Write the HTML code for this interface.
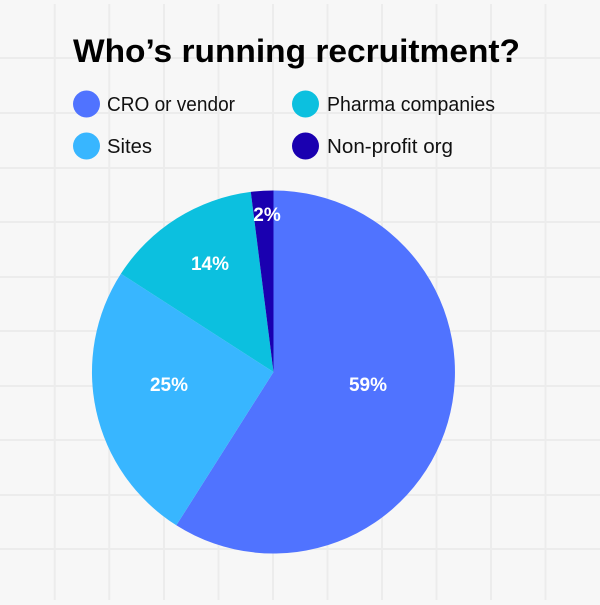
<!DOCTYPE html>
<html><head><style>
body{margin:0;width:600px;height:600px;overflow:hidden;background:#f7f7f7;font-family:"Liberation Sans",sans-serif}
</style></head><body>
<svg width="600" height="600" viewBox="0 0 600 600" xmlns="http://www.w3.org/2000/svg">
<rect width="600" height="600" fill="#f7f7f7"/>
<g stroke="#ececec" stroke-width="2">
<line x1="54.7" y1="4" x2="54.7" y2="600"/><line x1="109.3" y1="4" x2="109.3" y2="600"/><line x1="164" y1="4" x2="164" y2="600"/><line x1="218.5" y1="4" x2="218.5" y2="600"/><line x1="273" y1="4" x2="273" y2="600"/><line x1="327.5" y1="4" x2="327.5" y2="600"/><line x1="382" y1="4" x2="382" y2="600"/><line x1="436.5" y1="4" x2="436.5" y2="600"/><line x1="491" y1="4" x2="491" y2="600"/><line x1="545.5" y1="4" x2="545.5" y2="600"/>
<line x1="0" y1="58" x2="600" y2="58"/><line x1="0" y1="113" x2="600" y2="113"/><line x1="0" y1="168" x2="600" y2="168"/><line x1="0" y1="222" x2="600" y2="222"/><line x1="0" y1="277" x2="600" y2="277"/><line x1="0" y1="331" x2="600" y2="331"/><line x1="0" y1="386" x2="600" y2="386"/><line x1="0" y1="440" x2="600" y2="440"/><line x1="0" y1="495" x2="600" y2="495"/><line x1="0" y1="549" x2="600" y2="549"/>
</g>
<text x="73" y="62" font-size="32" font-weight="bold" fill="#000" textLength="447" lengthAdjust="spacingAndGlyphs">Who’s running recruitment?</text>
<circle cx="86.5" cy="104" r="13.5" fill="#5073ff"/>
<text x="107" y="111" font-size="20" fill="#111" textLength="128" lengthAdjust="spacingAndGlyphs">CRO or vendor</text>
<circle cx="305.5" cy="104" r="13.5" fill="#0cc0df"/>
<text x="327" y="111" font-size="20" fill="#111" textLength="168" lengthAdjust="spacingAndGlyphs">Pharma companies</text>
<circle cx="86.5" cy="146" r="13.5" fill="#38b6ff"/>
<text x="107" y="153" font-size="20" fill="#111" textLength="45" lengthAdjust="spacingAndGlyphs">Sites</text>
<circle cx="305.5" cy="146" r="13.5" fill="#1a00b0"/>
<text x="327" y="153" font-size="20" fill="#111" textLength="126" lengthAdjust="spacingAndGlyphs">Non-profit org</text>
<g transform="translate(273.5,372)">
<path d="M0,0 L0,-181.5 A181.5,181.5 0 1 1 -97.2,153.3 Z" fill="#5073ff"/>
<path d="M0,0 L-97.2,153.3 A181.5,181.5 0 0 1 -152.6,-98.3 Z" fill="#38b6ff"/>
<path d="M0,0 L-152.6,-98.3 A181.5,181.5 0 0 1 -22.7,-180.1 Z" fill="#0cc0df"/>
<path d="M0,0 L-22.7,-180.1 A181.5,181.5 0 0 1 0,-181.5 Z" fill="#1a00b0"/>
</g>
<g font-size="19" font-weight="bold" fill="#fff" text-anchor="middle">
<text x="368" y="391">59%</text>
<text x="169" y="391">25%</text>
<text x="210" y="270">14%</text>
<text x="267" y="221">2%</text>
</g>
</svg>
</body></html>
